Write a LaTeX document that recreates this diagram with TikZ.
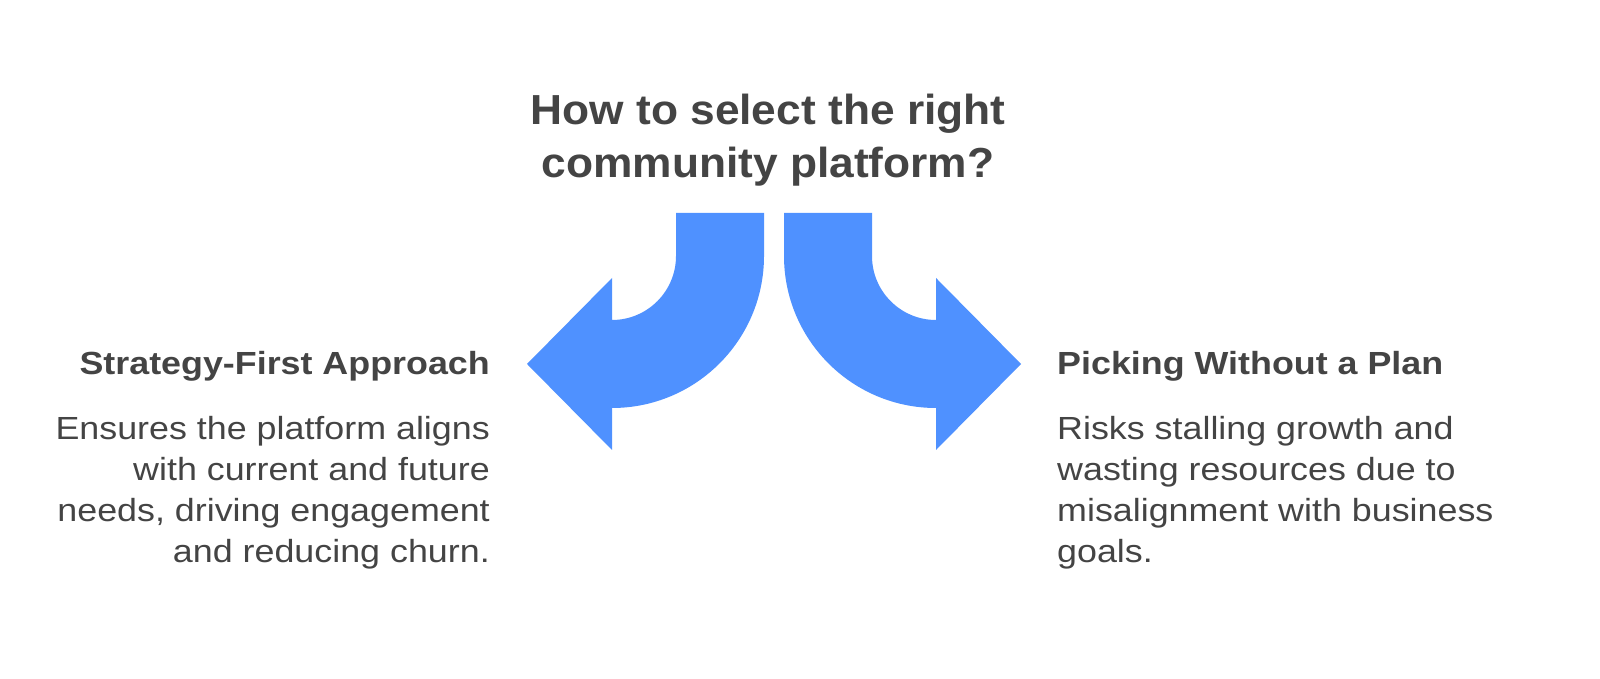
\documentclass[tikz,border=0pt]{standalone}
\usepackage{fontspec}
\setmainfont{Liberation Sans}
\newfontfamily\titlefont[FakeStretch=1.055]{Liberation Sans}
\newfontfamily\wfont[FakeStretch=1.12]{Liberation Sans}
\definecolor{arrowblue}{HTML}{4F91FF}
\definecolor{txt}{HTML}{444444}
\begin{document}
\begin{tikzpicture}[x=1pt,y=1pt,
  title/.style={text=txt,font=\titlefont\fontsize{42}{48}\selectfont\bfseries,inner sep=0},
  head/.style={text=txt,font=\wfont\fontsize{32}{38}\selectfont\bfseries,inner sep=0},
  body/.style={text=txt,font=\wfont\fontsize{32}{38}\selectfont,inner sep=0}]
\useasboundingbox (0,0) rectangle (1600,679);
\fill[arrowblue] (676,466) -- (764,466) -- (764,423) arc (0:-90:152) -- (612,229) -- (527,315) -- (612,401) -- (612,359) arc (-90:0:64) -- cycle;
\fill[arrowblue] (784,466) -- (784,423) arc (180:270:152) -- (936,229) -- (1021,315) -- (936,401) -- (936,359) arc (270:180:64) -- (872,423) -- (872,466) -- cycle;
\node[title,anchor=base] (t1) at (768,554) {How to select the right};
\node[title,anchor=base] (t2) at (768,501) {community platform?};
\node[head,anchor=base east] (lh) at (490,304) {Strategy-First Approach};
\node[body,anchor=base east] (l1) at (490,239) {Ensures the platform aligns};
\node[body,anchor=base east] (l2) at (490,198) {with current and future};
\node[body,anchor=base east] (l3) at (490,157) {needs, driving engagement};
\node[body,anchor=base east] (l4) at (490,116) {and reducing churn.};
\node[head,anchor=base west] (rh) at (1057,304) {Picking Without a Plan};
\node[body,anchor=base west] (r1) at (1057,239) {Risks stalling growth and};
\node[body,anchor=base west] (r2) at (1057,198) {wasting resources due to};
\node[body,anchor=base west] (r3) at (1057,157) {misalignment with business};
\node[body,anchor=base west] (r4) at (1057,116) {goals.};
\end{tikzpicture}
\end{document}
